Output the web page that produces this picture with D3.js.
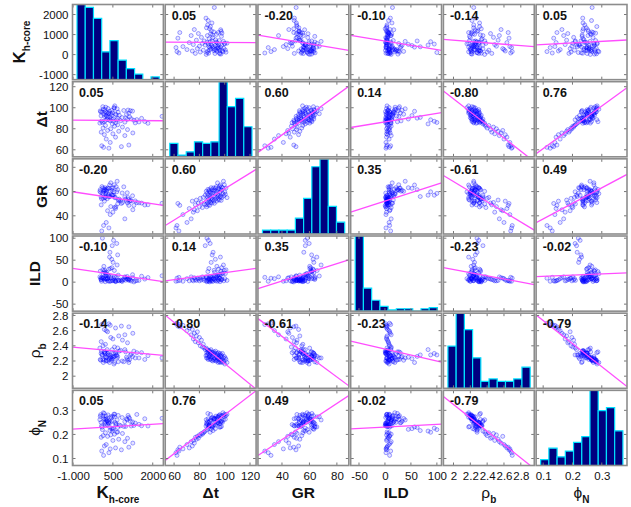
<!DOCTYPE html>
<html>
<head>
<meta charset="utf-8">
<script src="https://cdn.jsdelivr.net/npm/d3@7"></script>
<style>
  body { margin: 0; background: #fff; }
  svg { display: block; font-family: "Liberation Sans", Arial, sans-serif; }
</style>
</head>
<body>
<svg id="chart" width="631" height="507"></svg>
<script>
// well log samples (tight tail first, then the main cluster)
const kh = [350, 150, 820, 80, 1100, 400, 250, 600, 950, 180, 500, 1250, 60, 720, 300, 1050, 420, 130, 860, 560, 220, 680,
  475, 1820, 10, 1340, 610, 105, 950, 1480, 175, 1700, 525, 70, 405, 790, 225, 1290, 360, 645, 1400, 1040,
  285, 510, 1190, 440, 1580, 680, 980, 850, 390, 300, 1130, 190, 2350, 255, 55, 455, 740, 240, 625, 1010,
  160, 590, 420, 330, 1100, 345, 490, 270, 700, 90, 40, 210, 375, 1240, 25, 1160, 910, 465, 1070, 200,
  140, 660, 315, 555, 540, 232, 120, 570];
const dt = [61.5, 62.3, 63.0, 63.8, 64.5, 67.0, 70.2, 72.0, 73.5, 74.4, 75.2, 76.0, 76.8, 77.6, 78.4, 79.2, 80.0, 80.7, 81.6, 82.4, 83.1, 83.8,
  84.6, 85.2, 85.4, 85.6, 85.8, 86.0, 86.3, 86.5, 86.7, 86.9, 87.1, 87.3, 87.5, 87.7, 87.9, 88.1, 88.3, 88.5, 88.7, 88.9,
  89.1, 89.3, 89.5, 89.7, 89.9, 90.1, 90.3, 90.6, 90.8, 91.1, 91.3, 91.6, 91.8, 92.1, 92.3, 92.6, 92.8, 93.1, 93.3, 93.6,
  93.8, 94.1, 94.3, 94.5, 94.8, 95.0, 95.2, 95.4, 95.7, 95.9, 96.1, 96.3, 96.6, 96.8, 97.0, 97.2, 97.4, 97.6, 97.8, 98.2,
  98.6, 99.0, 99.3, 99.7, 100.1, 100.5, 101.0, 101.8];
const gr = [30.0, 32.0, 50.2, 27.5, 48.6, 41.0, 34.5, 46.0, 37.5, 52.1, 43.0, 45.0, 49.0, 53.0, 44.2, 50.6, 47.6, 54.4, 51.0, 46.8, 55.2, 49.8,
  57.0, 49.1, 60.2, 52.3, 47.4, 58.5, 55.6, 50.7, 61.8, 48.9, 57.0, 54.1, 60.3, 52.4, 61.5, 48.6, 55.7, 59.8, 50.9, 59.0,
  54.1, 63.2, 52.3, 57.4, 50.5, 61.6, 53.7, 58.8, 55.9, 63.0, 52.1, 61.2, 50.3, 60.4, 55.6, 62.7, 53.8, 58.9, 64.0, 52.1,
  60.2, 55.3, 67.2, 57.5, 53.6, 62.7, 56.8, 61.9, 53.0, 64.1, 59.2, 55.3, 65.4, 56.5, 61.6, 52.7, 63.9, 61.0, 55.1, 63.2,
  58.3, 68.5, 56.5, 65.6, 59.7, 57.8, 62.9, 55.0];
const ild = [2, 9, 3, 11, 4, 2, 8, 3, 12, 5, 3, 10, 6, 4, 9, 7, 3, 9, 5, 12, 8, 4,
  83, 10.5, 12, 3, 1, 100, 11, 4, 24, 7, 95, 2, 31, 5, 8, 0.5, 12.5, 88, 3.5, 13,
  6.5, 45, 2.5, 9.5, 13.5, 62, 4.5, 1.5, 68, 8, 7.5, 27, 14.5, 22.5, 5.5, 52, 3, 15, 11.5, 8.5,
  36, 2, 14, 15.5, 6, 29.5, 4, 18, 16, 9, 9, 1, 57, 17, 25, 5, 6, 33, 7, 21,
  19, 39, 3, 26.5, 8, 19.5, 28, 4];
const rhob = [2.690, 2.698, 2.660, 2.680, 2.650, 2.670, 2.600, 2.635, 2.545, 2.615, 2.490, 2.565, 2.455, 2.530, 2.585, 2.440, 2.510, 2.400, 2.475, 2.385, 2.420, 2.372,
  2.35, 2.27, 2.37, 2.24, 2.31, 2.28, 2.35, 2.24, 2.32, 2.22, 2.30, 2.33, 2.25, 2.34, 2.26, 2.33, 2.22, 2.28, 2.31, 2.23,
  2.35, 2.25, 2.29, 2.21, 2.31, 2.26, 2.32, 2.20, 2.28, 2.30, 2.22, 2.32, 2.24, 2.21, 2.30, 2.23, 2.33, 2.20, 2.27, 2.25,
  2.21, 2.30, 2.24, 2.28, 2.18, 2.31, 2.23, 2.25, 2.19, 2.28, 2.21, 2.30, 2.18, 2.26, 2.22, 2.28, 2.19, 2.26, 2.21, 2.30,
  2.18, 2.24, 2.20, 2.26, 2.16, 2.24, 2.22, 2.18];
const phin = [0.124, 0.113, 0.136, 0.131, 0.147, 0.140, 0.158, 0.144, 0.170, 0.152, 0.175, 0.164, 0.188, 0.180, 0.192, 0.184, 0.198, 0.195, 0.204, 0.201, 0.207, 0.210,
  0.214, 0.235, 0.261, 0.247, 0.241, 0.220, 0.253, 0.242, 0.287, 0.265, 0.226, 0.235, 0.250, 0.236, 0.239, 0.237, 0.256, 0.209, 0.283, 0.261,
  0.257, 0.221, 0.235, 0.268, 0.236, 0.229, 0.233, 0.270, 0.216, 0.239, 0.266, 0.262, 0.267, 0.265, 0.250, 0.224, 0.239, 0.276, 0.244, 0.264,
  0.266, 0.249, 0.273, 0.249, 0.271, 0.248, 0.275, 0.256, 0.279, 0.230, 0.282, 0.245, 0.231, 0.252, 0.275, 0.254, 0.233, 0.255, 0.279, 0.250,
  0.290, 0.260, 0.281, 0.273, 0.284, 0.263, 0.278, 0.284];

const columns = [kh, dt, gr, ild, rhob, phin];
const titleMain = ['K', 'Δt', 'GR', 'ILD', 'ρ', 'ϕ'];
const titleSub = ['h-core', '', '', '', 'b', 'N'];

const xDomains = [[-1020, 2400], [53, 124.8], [22.5, 88.7], [-66, 109], [1.88, 2.96], [0.076, 0.386]];
const yDomains = [[-1250, 2500], [53.3, 124.8], [25, 87], [-66, 105], [1.84, 2.83], [0.071, 0.383]];
const xTicks = [[-1000, 500, 2000], [60, 80, 100, 120], [40, 60, 80], [-50, 0, 50, 100], [2, 2.2, 2.4, 2.6, 2.8], [0.1, 0.2, 0.3]];
const xTickLabels = [['-1.000', '500', '2000'], ['60', '80', '100', '120'], ['40', '60', '80'],
  ['-50', '0', '50', '100'], ['2', '2.2', '2.4', '2.6', '2.8'], ['0.1', '0.2', '0.3']];
const yTicks = [[-1000, 0, 1000, 2000], [60, 80, 100, 120], [40, 60, 80], [-50, 0, 50, 100], [2, 2.2, 2.4, 2.6, 2.8], [0.1, 0.2, 0.3]];

const corr = [
  [1, 0.05, -0.20, -0.10, -0.14, 0.05],
  [0.05, 1, 0.60, 0.14, -0.80, 0.76],
  [-0.20, 0.60, 1, 0.35, -0.61, 0.49],
  [-0.10, 0.14, 0.35, 1, -0.23, -0.02],
  [-0.14, -0.80, -0.61, -0.23, 1, -0.79],
  [0.05, 0.76, 0.49, -0.02, -0.79, 1]
];

// histogram bar heights on the diagonal (10 bins each)
const histCounts = [
  [27, 26, 22, 10, 14, 7, 4, 2, 0, 1],
  [8, 1, 3, 9, 8, 9, 45, 30, 35, 18],
  [1, 1, 1, 1, 4, 9, 17, 19, 7, 3],
  [62, 19, 9, 4, 1, 2, 2, 0, 2, 3],
  [18, 32, 25, 13, 3, 4, 3, 3, 4, 9],
  [2, 6, 3, 5, 8, 10, 26, 19, 20, 12]
];

const n = columns.length;
const svg = d3.select('#chart');
const defs = svg.append('defs');

const colBand = d3.scaleBand().domain(d3.range(n)).range([72.5, 627]).paddingInner(0.02);
const rowBand = d3.scaleBand().domain(d3.range(n)).range([4.5, 465.5]).paddingInner(0.026);
const pw = colBand.bandwidth(), ph = rowBand.bandwidth();

const xs = d3.range(n).map(j => d3.scaleLinear().domain(xDomains[j]).range([colBand(j), colBand(j) + pw]));
const ys = d3.range(n).map(i => d3.scaleLinear().domain(yDomains[i]).range([rowBand(i) + ph, rowBand(i)]));

function fitLine(xv, yv) {
  const mx = d3.mean(xv), my = d3.mean(yv);
  const sxy = d3.sum(xv, (v, k) => (v - mx) * (yv[k] - my));
  const sxx = d3.sum(xv, v => (v - mx) * (v - mx));
  const b = sxy / sxx;
  return [b, my - b * mx];
}

for (let i = 0; i < n; i++) {
  for (let j = 0; j < n; j++) {
    const x0 = colBand(j), y0 = rowBand(i);
    const clipId = `clip-${i}-${j}`;
    defs.append('clipPath').attr('id', clipId)
      .append('rect').attr('x', x0).attr('y', y0).attr('width', pw).attr('height', ph);

    const g = svg.append('g');
    g.append('rect')
      .attr('x', x0).attr('y', y0).attr('width', pw).attr('height', ph)
      .attr('fill', '#fff');

    const inner = g.append('g').attr('clip-path', `url(#${clipId})`);

    if (i === j) {
      const counts = histCounts[i];
      const hx = d3.scaleLinear().domain([-0.55, 10.5]).range([x0, x0 + pw]);
      const hy = d3.scaleLinear().domain([0, d3.max(counts)]).range([y0 + ph, y0]);
      inner.selectAll('path.bar')
        .data(counts)
        .join('path')
        .attr('class', 'bar')
        .attr('d', (c, k) => `M${hx(k)},${hy(0)}V${hy(c)}H${hx(k + 1)}V${hy(0)}Z`)
        .attr('fill', '#000080')
        .attr('stroke', '#00e1ff')
        .attr('stroke-width', 1.2);
    } else {
      const xv = columns[j], yv = columns[i];
      inner.selectAll('circle')
        .data(xv)
        .join('circle')
        .attr('cx', d => xs[j](d))
        .attr('cy', (d, k) => ys[i](yv[k]))
        .attr('r', 2)
        .attr('fill', 'blue')
        .attr('fill-opacity', 0.1)
        .attr('stroke', 'blue')
        .attr('stroke-opacity', 0.45)
        .attr('stroke-width', 0.8);

      const [b, a] = fitLine(xv, yv);
      const xd = xDomains[j];
      inner.append('line')
        .attr('x1', xs[j](xd[0])).attr('y1', ys[i](a + b * xd[0]))
        .attr('x2', xs[j](xd[1])).attr('y2', ys[i](a + b * xd[1]))
        .attr('stroke', '#ff4dff')
        .attr('stroke-width', 1.3);

      g.append('text')
        .attr('x', x0 + 6.5).attr('y', y0 + 15)
        .attr('font-size', 12.5).attr('font-weight', 'bold')
        .attr('fill', '#111')
        .text(corr[i][j].toFixed(2));
    }

    // tick marks on all four edges
    const tk = 3;
    xTicks[j].forEach(v => {
      const px = xs[j](v);
      g.append('line').attr('x1', px).attr('x2', px).attr('y1', y0 + ph).attr('y2', y0 + ph - tk).attr('stroke', '#777');
      g.append('line').attr('x1', px).attr('x2', px).attr('y1', y0).attr('y2', y0 + tk).attr('stroke', '#777');
    });
    yTicks[i].forEach(v => {
      const py = ys[i](v);
      g.append('line').attr('y1', py).attr('y2', py).attr('x1', x0).attr('x2', x0 + tk).attr('stroke', '#777');
      g.append('line').attr('y1', py).attr('y2', py).attr('x1', x0 + pw).attr('x2', x0 + pw - tk).attr('stroke', '#777');
    });

    g.append('rect')
      .attr('x', x0).attr('y', y0).attr('width', pw).attr('height', ph)
      .attr('fill', 'none').attr('stroke', '#8c8c8c').attr('stroke-width', 1.6);
  }
}

// left tick labels
for (let i = 0; i < n; i++) {
  svg.append('g')
    .attr('transform', `translate(${colBand(0)},0)`)
    .call(d3.axisLeft(ys[i]).tickValues(yTicks[i]).tickSize(0).tickPadding(4).tickFormat(d => String(d)))
    .call(a => a.select('.domain').remove())
    .call(a => a.selectAll('text').attr('font-size', 11.5).attr('font-family', null).attr('fill', '#111'));
}

// bottom tick labels
const bottom = rowBand(n - 1) + ph;
for (let j = 0; j < n; j++) {
  svg.append('g')
    .attr('transform', `translate(0,${bottom})`)
    .call(d3.axisBottom(xs[j]).tickValues(xTicks[j]).tickSize(0).tickPadding(6.8)
      .tickFormat((d, k) => xTickLabels[j][k]))
    .call(a => a.select('.domain').remove())
    .call(a => a.selectAll('text').attr('font-size', 11.5).attr('font-family', null).attr('fill', '#111'));
}

// axis titles
function addTitle(sel, k) {
  const bold = k < 4;
  sel.append('tspan')
    .attr('font-size', k === 0 ? 17 : 15.5)
    .attr('font-weight', bold ? 'bold' : 'normal')
    .text(titleMain[k]);
  if (titleSub[k]) {
    sel.append('tspan')
      .attr('font-size', 10)
      .attr('font-weight', 'bold')
      .attr('dy', k === 0 ? 5 : 5.5)
      .text(titleSub[k]);
  }
}

for (let j = 0; j < n; j++) {
  const t = svg.append('text')
    .attr('x', colBand(j) + pw / 2)
    .attr('y', 497.5)
    .attr('text-anchor', 'middle')
    .attr('fill', '#111');
  addTitle(t, j);
}

const yTitleX = [25, 47, 47, 40, 40, 40];
for (let i = 0; i < n; i++) {
  const t = svg.append('text')
    .attr('transform', `translate(${yTitleX[i]},${rowBand(i) + ph / 2}) rotate(-90)`)
    .attr('text-anchor', 'middle')
    .attr('fill', '#111');
  addTitle(t, i);
}
</script>
</body>
</html>
